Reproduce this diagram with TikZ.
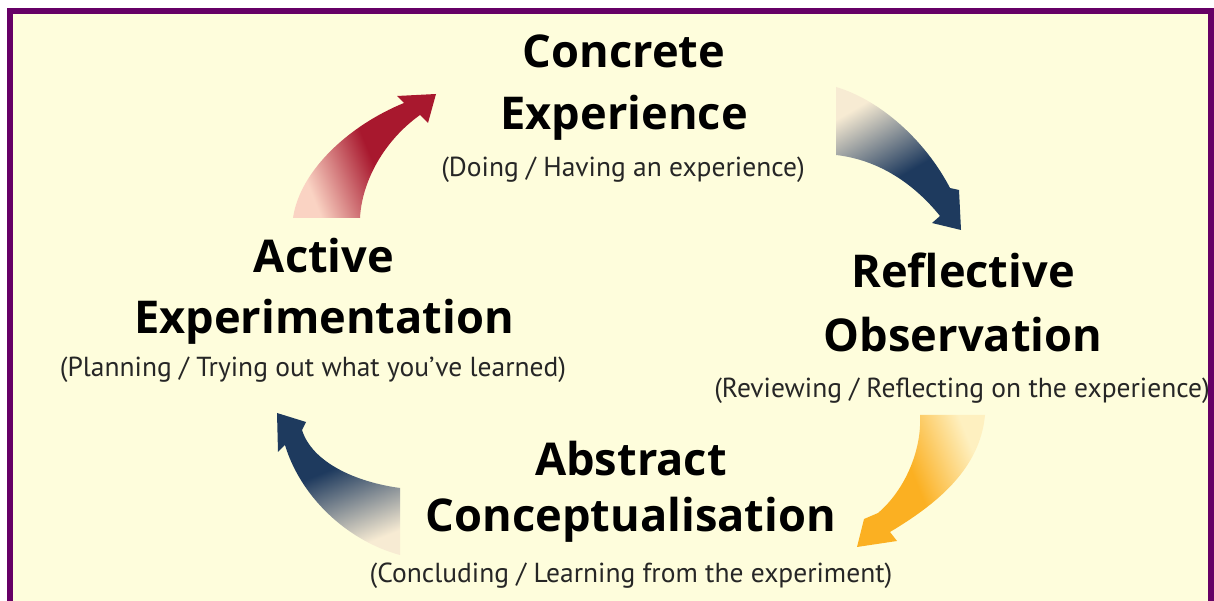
\documentclass[tikz,border=0pt]{standalone}
\usepackage{fontspec}
\setmainfont{PT Sans}
\newfontfamily\titlefont{Open Sans}
\definecolor{bgcream}{HTML}{FEFDDC}
\definecolor{framepurple}{HTML}{660066}
\definecolor{redD}{HTML}{A8182E}
\definecolor{redL}{HTML}{FAD3C3}
\definecolor{navyD}{HTML}{1E3A5E}
\definecolor{navyL}{HTML}{F7EBD3}
\definecolor{yelD}{HTML}{FBB022}
\definecolor{yelL}{HTML}{FEF0C0}
\pgfdeclareverticalshading{redsh}{100bp}{color(0bp)=(redL); color(27bp)=(redL); color(52bp)=(redD); color(100bp)=(redD)}
\pgfdeclareverticalshading{navysh}{100bp}{color(0bp)=(navyL); color(26bp)=(navyL); color(56bp)=(navyD); color(100bp)=(navyD)}
\pgfdeclareverticalshading{yelsh}{100bp}{color(0bp)=(yelL); color(27bp)=(yelL); color(52bp)=(yelD); color(100bp)=(yelD)}
\begin{document}
\begin{tikzpicture}[x=1pt,y=1pt,
  title/.style={font=\titlefont\fontsize{45.2}{45.2}\selectfont\bfseries, anchor=base, inner sep=0pt, text=black},
  subtitle/.style={font=\fontsize{27.5}{27.5}\selectfont, anchor=base, inner sep=0pt, text=black!85}]
% canvas and frame
\fill[white] (0,0) rectangle (1214,601);
\useasboundingbox (0,0) rectangle (1214,601);
\fill[framepurple] (7,0) rectangle (1214,593);
\fill[bgcream] (13,0) rectangle (1208,587);
% arrows
\shade[shading=redsh, shading angle=-68]
  (293,383) .. controls (300,431) and (350,476) .. (404,498)
  -- (397,505) -- (436,507) -- (428,478) -- (420,486)
  .. controls (385,461) and (362,421) .. (360,383) -- cycle;
\shade[shading=navysh, shading angle=-150]
  (836,514) .. controls (880,501) and (925,461) .. (950,413)
  -- (959,411) -- (961,371) -- (932,378) -- (940,385)
  .. controls (915,416) and (880,441) .. (836,446) -- cycle;
\shade[shading=yelsh, shading angle=112]
  (920,186) .. controls (922,151) and (905,111) .. (878,88)
  -- (864,82) -- (857,54) -- (897,60) -- (890,69)
  .. controls (935,96) and (980,131) .. (985,186) -- cycle;
\shade[shading=navysh, shading angle=22]
  (400,113) .. controls (355,119) and (312,139) .. (302,171)
  -- (306,179) -- (277,188) -- (278,149) -- (285,156)
  .. controls (300,106) and (345,61) .. (400,46) -- cycle;
% texts
\node[title] (ce1) at (624,533) {Concrete};
\node[title] (ce2) at (624,471) {Experience};
\node[subtitle] (ce3) at (623,424) {(Doing / Having an experience)};
\node[title] (ro1) at (963,313) {Reflective};
\node[title] (ro2) at (963,249) {Observation};
\node[subtitle] (ro3) at (962,203) {(Reviewing / Reflecting on the experience)};
\node[title] (ae1) at (324,328) {Active};
\node[title] (ae2) at (324,267) {Experimentation};
\node[subtitle] (ae3) at (313,224) {(Planning / Trying out what you’ve learned)};
\node[title] (ac1) at (631,125) {Abstract};
\node[title] (ac2) at (631,69) {Conceptualisation};
\node[subtitle] (ac3) at (631,18) {(Concluding / Learning from the experiment)};
\end{tikzpicture}
\end{document}
